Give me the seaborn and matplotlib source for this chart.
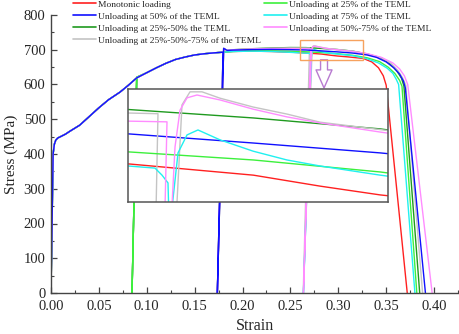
import matplotlib
matplotlib.use("Agg")
import matplotlib.pyplot as plt
import seaborn as sns
import pandas as pd
from matplotlib.lines import Line2D
from matplotlib.patches import Rectangle

# shared loading path up to the first unloading point (25% of the TEML)
base_strain = [0.0, 0.0022, 0.0035, 0.005, 0.007, 0.010, 0.015, 0.020, 0.030, 0.040,
               0.050, 0.060, 0.072, 0.080, 0.0895]
base_stress = [0, 400, 428, 440, 446, 450, 457, 466, 483, 508, 533, 556, 578, 596, 619]

# unloading / reloading at 25% of the TEML
unl25_strain = [0.0846, 0.0895]
unl25_stress = [0, 621]

# shared hardening path up to 50% of the TEML
mid_strain = [0.10, 0.11, 0.12, 0.13, 0.14, 0.15, 0.16, 0.17, 0.1797]
mid_stress = [634, 648, 661, 672, 679, 685, 688.5, 691, 693]

# unloading / reloading at 50% of the TEML
unl50_strain = [0.1737, 0.1803, 0.1840]
unl50_stress = [0, 704, 698]

# individual tails (incl. unloading at 75% where applicable)
red_strain = [0.19, 0.21, 0.23, 0.25, 0.266, 0.2824, 0.2911, 0.299, 0.31, 0.326, 0.335,
              0.342, 0.347, 0.350, 0.372]
red_stress = [695, 696, 695, 693, 690.8, 687.6, 684.5, 682, 679.5, 675, 665, 648, 625, 598, 0]

blue_strain = [0.19, 0.21, 0.23, 0.25, 0.266, 0.2824, 0.299, 0.315, 0.33, 0.340, 0.350,
               0.358, 0.364, 0.368, 0.370, 0.391]
blue_stress = [699, 700.5, 701, 700.3, 699.3, 696.7, 693.9, 690.5, 685, 678, 665, 648, 630,
               610, 590, 0]

dgreen_strain = [0.19, 0.21, 0.23, 0.25, 0.266, 0.2824, 0.299, 0.315, 0.33, 0.345, 0.354,
                 0.361, 0.366, 0.3685, 0.385]
dgreen_stress = [700, 703, 705, 706.4, 706.2, 703.8, 700.7, 696, 688, 676, 660, 640, 618, 596, 0]

gray_strain = [0.19, 0.21, 0.23, 0.25, 0.266, 0.26992, 0.2634, 0.27241, 0.27306, 0.27411,
               0.27568, 0.27803, 0.28235, 0.28679, 0.29111, 0.299, 0.315, 0.33, 0.345, 0.355,
               0.362, 0.367, 0.3705, 0.388]
gray_stress = [699.5, 702.5, 704, 705.2, 705.2, 705.0, 0, 680, 707.5, 711.2, 711.2, 709.4,
               706.9, 704.9, 702.6, 700.5, 696, 688, 677, 661, 641, 620, 598, 0]

lgreen_strain = [0.19, 0.21, 0.23, 0.25, 0.266, 0.2824, 0.299, 0.315, 0.33, 0.343, 0.352,
                 0.359, 0.364, 0.3665, 0.382]
lgreen_stress = [695, 697, 697, 696, 694.2, 691.9, 688.5, 684, 677, 666, 650, 632, 612, 595, 0]

cyan_strain = [0.19, 0.21, 0.23, 0.25, 0.266, 0.26953, 0.27045, 0.27123, 0.2713, 0.2636,
               0.27184, 0.27254, 0.27372, 0.27515, 0.27803, 0.28235, 0.28679, 0.29111, 0.299,
               0.315, 0.33, 0.342, 0.351, 0.357, 0.3605, 0.363, 0.380]
cyan_stress = [695, 696, 695, 692.5, 690.2, 689.6, 687.6, 685.4, 680, 0, 680, 693.9, 699,
               700.4, 697.6, 694.4, 691.9, 690.2, 687.6, 683, 674, 662, 647, 632, 615, 600, 0]

pink_strain = [0.19, 0.21, 0.23, 0.25, 0.266, 0.2711, 0.2636, 0.2718, 0.27215, 0.2728,
               0.27372, 0.27502, 0.27803, 0.28235, 0.28679, 0.29111, 0.299, 0.315, 0.33,
               0.345, 0.357, 0.364, 0.369, 0.3725, 0.398]
pink_stress = [700, 702, 703.5, 703.5, 702.9, 702.7, 0, 681, 695.6, 706, 709.5, 710.3, 708.9,
               706.3, 704.1, 702.4, 699.8, 695, 689, 678, 662, 645, 625, 600, 0]

labels = ["Monotonic loading", "Unloading at 50% of the TEML",
          "Unloading at 25%-50% the TEML", "Unloading at 25%-50%-75% of the TEML",
          "Unloading at 25% of the TEML", "Unloading at 75% of the TEML",
          "Unloading at 50%-75% of the TEML"]
colors = ["#ff2020", "#1010ff", "#1f9a1f", "#c4c4c4", "#3cf03c", "#20f0f0", "#ff8cff"]
has25 = [False, False, True, True, True, False, False]
has50 = [False, True, True, True, False, False, True]
tails = [(red_strain, red_stress), (blue_strain, blue_stress), (dgreen_strain, dgreen_stress),
         (gray_strain, gray_stress), (lgreen_strain, lgreen_stress),
         (cyan_strain, cyan_stress), (pink_strain, pink_stress)]
main_order = [0, 2, 3, 4, 5, 6, 1]   # blue ends up on top of the shared path

frames = []
for i, lab in enumerate(labels):
    xs = list(base_strain)
    ys = list(base_stress)
    if has25[i]:
        xs += unl25_strain
        ys += unl25_stress
    xs += mid_strain
    ys += mid_stress
    if has50[i]:
        xs += unl50_strain
        ys += unl50_stress
    xs += tails[i][0]
    ys += tails[i][1]
    frames.append(pd.DataFrame({"strain": xs, "stress": ys}))

sns.set_style("ticks")
plt.rcParams["font.family"] = ["Liberation Serif", "DejaVu Serif"]
plt.rcParams["xtick.direction"] = "in"
plt.rcParams["ytick.direction"] = "in"

fig = plt.figure(figsize=(4.59, 3.34), dpi=100)
ax = fig.add_axes([51 / 459, 1 - 293 / 334, 407 / 459, 278 / 334])

for i in main_order:
    sns.lineplot(data=frames[i], x="strain", y="stress", sort=False, estimator=None,
                 color=colors[i], lw=1, ax=ax)

ax.set_xlim(0, 0.425)
ax.set_ylim(0, 800)
ax.set_xticks([0.0, 0.05, 0.10, 0.15, 0.20, 0.25, 0.30, 0.35, 0.40])
ax.set_xticklabels(["0.00", "0.05", "0.10", "0.15", "0.20", "0.25", "0.30", "0.35", "0.40"])
ax.set_xticks([0.025 * k for k in range(18)], minor=True)
ax.set_yticks(range(0, 801, 100))
ax.set_yticks(range(0, 801, 50), minor=True)
ax.tick_params(which="major", length=4, width=0.9, labelsize=10.5, color="#444444", pad=4)
ax.tick_params(which="minor", length=2.5, width=0.8, color="#444444")
ax.tick_params(axis="x", which="major", pad=5)
ax.set_xlabel("Strain", fontsize=11.5, labelpad=4)
ax.set_ylabel("Stress (MPa)", fontsize=11, labelpad=4)
for side in ["top", "right"]:
    ax.spines[side].set_visible(False)
for side in ["left", "bottom"]:
    ax.spines[side].set_color("#444444")
    ax.spines[side].set_linewidth(1)

# zoom marker and arrow
ax.add_patch(Rectangle((0.260, 670.5), 0.0658, 57.5, fill=False, ec="#f6a25e", lw=1, zorder=5))
ax.annotate("", xy=(0.2851, 590), xytext=(0.2851, 671),
            arrowprops=dict(arrowstyle="simple,head_length=1.3,head_width=1.15,tail_width=0.5",
                            fc="white", ec="#b87bd0", lw=1, shrinkA=0, shrinkB=0))

# inset
axin = fig.add_axes([128 / 459, 1 - 202 / 334, 260 / 459, 113 / 334])
for i in range(len(labels)):
    sns.lineplot(data=frames[i], x="strain", y="stress", sort=False, estimator=None,
                 color=colors[i], lw=1, ax=axin)
axin.set_xlim(0.266, 0.300)
axin.set_ylim(680, 712)
axin.set_xticks([])
axin.set_yticks([])
axin.set_xlabel("")
axin.set_ylabel("")
axin.set_facecolor("white")
for side in axin.spines.values():
    side.set_color("#555555")
    side.set_linewidth(1.1)
    side.set_visible(True)

handles = [Line2D([], [], color=c, lw=1.2) for c in colors]
fig.legend(handles, labels, loc="upper left", bbox_to_anchor=(73 / 459, 1.0),
           bbox_transform=fig.transFigure, ncol=2, frameon=False, fontsize=6.8,
           handlelength=2.4, handletextpad=0.25, columnspacing=0.3, labelspacing=0.36,
           borderpad=0, borderaxespad=0)

fig.savefig("out.png", dpi=100)
